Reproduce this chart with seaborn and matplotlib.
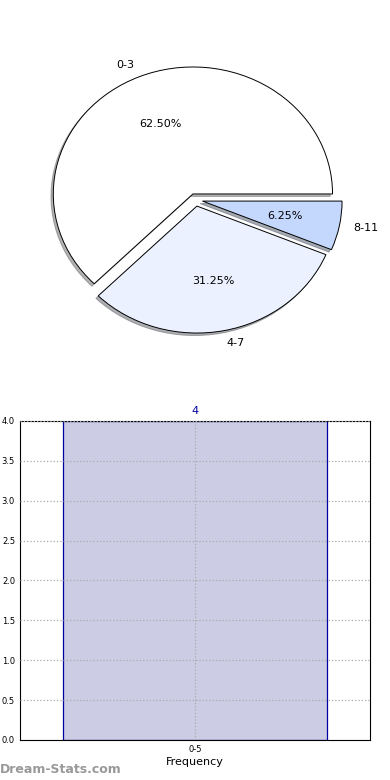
import matplotlib
matplotlib.use("Agg")
import matplotlib.pyplot as plt
import seaborn as sns

# Pie data
pie_labels = ["0-3", "4-7", "8-11"]
pie_counts = [10, 5, 1]
pie_colors = ["#FFFFFF", "#EBF1FE", "#C4D8FE"]

# Bar data
bar_cats = ["0-5"]
bar_vals = [4]
y_ticks = [0.0, 0.5, 1.0, 1.5, 2.0, 2.5, 3.0, 3.5, 4.0]

sns.set_style("white")
plt.rcParams["font.family"] = ["DejaVu Sans"]
plt.rcParams["text.color"] = "black"
plt.rcParams["axes.labelcolor"] = "black"
plt.rcParams["xtick.color"] = "black"
plt.rcParams["ytick.color"] = "black"

fig = plt.figure(figsize=(3.9, 7.8), dpi=100)

# Pie chart
ax1 = fig.add_axes([0.054, 0.5403, 0.895, 0.407])
ax1.pie(pie_counts, labels=pie_labels, colors=pie_colors, explode=[0.05] * 3,
        autopct="%1.2f%%", startangle=0,
        shadow={"ox": -0.012, "oy": -0.014, "shade": 0.6},
        wedgeprops={"edgecolor": "black", "linewidth": 0.7},
        textprops={"fontsize": 8, "color": "black"})
ax1.set_aspect("auto")
ax1.set_xlim(-1.25, 1.25)
ax1.set_ylim(-1.25, 1.25)

# Bar chart
ax2 = fig.add_axes([0.051, 0.0513, 0.897, 0.409])
sns.barplot(x=bar_cats, y=bar_vals, width=0.8, color="#CCCCE5", saturation=1,
            edgecolor="#0000A0", linewidth=0.9, ax=ax2)
ax2.set_xlim(-0.53, 0.53)
ax2.set_ylim(0, 4)
ax2.set_yticks(y_ticks)
ax2.set_yticklabels([f"{t:.1f}" for t in y_ticks])
ax2.tick_params(axis="both", labelsize=6, length=2, direction="in")
ax2.grid(True, linestyle=":", color="#AAAAAA", linewidth=0.9)
ax2.set_axisbelow(False)
for s in ax2.spines.values():
    s.set_visible(True)
    s.set_color("black")
    s.set_linewidth(0.8)
ax2.set_xlabel("Frequency", fontsize=8, labelpad=2)
for i, v in enumerate(bar_vals):
    ax2.text(i, v + 0.06, str(v), ha="center", va="bottom", fontsize=8, color="#0000A0")

fig.text(0.0, 0.005, "Dream-Stats.com", fontsize=9, color="#999999",
         fontweight="bold", ha="left", va="bottom")

fig.savefig("out.png", dpi=100)
